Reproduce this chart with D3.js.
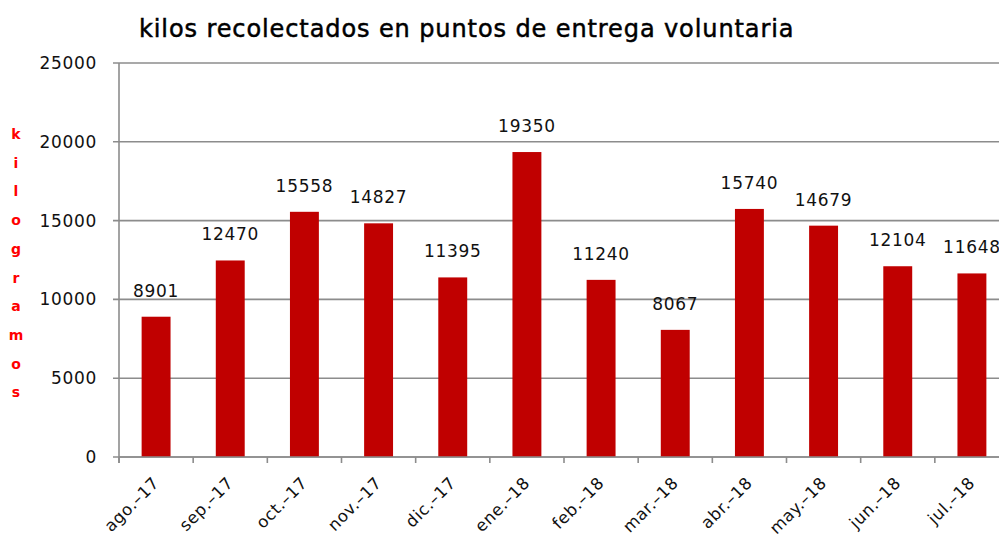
<!DOCTYPE html>
<html>
<head>
<meta charset="utf-8">
<script src="https://cdn.jsdelivr.net/npm/d3@7"></script>
<style>
  body { margin: 0; background: #fff; }
  svg { display: block; font-family: "DejaVu Sans", Verdana, sans-serif; }
</style>
</head>
<body>
<svg id="chart" width="999" height="535"></svg>
<script>
const months = ['ago.–17', 'sep.–17', 'oct.–17', 'nov.–17', 'dic.–17', 'ene.–18',
  'feb.–18', 'mar.–18', 'abr.–18', 'may.–18', 'jun.–18', 'jul.–18'];
const kilos = [8901, 12470, 15558, 14827, 11395, 19350, 11240, 8067, 15740, 14679, 12104, 11648];
const yTicks = [0, 5000, 10000, 15000, 20000, 25000];
const yLabelLetters = ['k', 'i', 'l', 'o', 'g', 'r', 'a', 'm', 'o', 's'];

const svg = d3.select('#chart');
const plotLeft = 119, plotRight = 1009, plotTop = 63, plotBottom = 457;

const x = d3.scaleBand().domain(months).range([plotLeft, plotRight]).paddingInner(0.61).paddingOuter(0.305);
const xTickScale = d3.scaleBand().domain(months).range([plotLeft, plotRight]);
const y = d3.scaleLinear().domain([0, 25000]).range([plotBottom, plotTop]);

// gridlines
svg.append('g')
  .selectAll('line')
  .data(yTicks)
  .enter()
  .append('line')
  .attr('x1', plotLeft - 6)
  .attr('x2', plotRight)
  .attr('y1', (d) => y(d))
  .attr('y2', (d) => y(d))
  .attr('stroke', '#8c8c8c')
  .attr('stroke-width', 1.6);

// y tick labels
svg.append('g')
  .selectAll('text')
  .data(yTicks)
  .enter()
  .append('text')
  .attr('x', 97)
  .attr('y', (d) => y(d) + 6)
  .attr('text-anchor', 'end')
  .attr('font-size', 17)
  .attr('letter-spacing', 0.7)
  .attr('fill', '#111')
  .text((d) => d);

// bars
svg.append('g')
  .selectAll('rect')
  .data(kilos)
  .enter()
  .append('rect')
  .attr('x', (d, i) => x(months[i]))
  .attr('y', (d) => y(d))
  .attr('width', x.bandwidth())
  .attr('height', (d) => plotBottom - y(d))
  .attr('fill', '#c00000');

// value labels
svg.append('g')
  .selectAll('text')
  .data(kilos)
  .enter()
  .append('text')
  .attr('x', (d, i) => x(months[i]) + x.bandwidth() / 2)
  .attr('y', (d) => y(d) - 20)
  .attr('text-anchor', 'middle')
  .attr('font-size', 17)
  .attr('letter-spacing', 0.7)
  .attr('fill', '#111')
  .text((d) => d);

// axes lines
svg.append('line')
  .attr('x1', plotLeft).attr('x2', plotLeft)
  .attr('y1', plotTop).attr('y2', plotBottom + 6)
  .attr('stroke', '#8c8c8c').attr('stroke-width', 1.6);
svg.append('line')
  .attr('x1', plotLeft).attr('x2', plotRight)
  .attr('y1', plotBottom).attr('y2', plotBottom)
  .attr('stroke', '#8c8c8c').attr('stroke-width', 1.6);

// x ticks
svg.append('g')
  .selectAll('line')
  .data(months)
  .enter()
  .append('line')
  .attr('x1', (d) => xTickScale(d))
  .attr('x2', (d) => xTickScale(d))
  .attr('y1', plotBottom)
  .attr('y2', plotBottom + 6)
  .attr('stroke', '#8c8c8c')
  .attr('stroke-width', 1.6);

// x labels, rotated
svg.append('g')
  .selectAll('text')
  .data(months)
  .enter()
  .append('text')
  .attr('transform', (d) => {
    let cx = xTickScale(d) + xTickScale.bandwidth() / 2 + 4;
    return 'translate(' + cx + ',' + 484 + ') rotate(-45)';
  })
  .attr('text-anchor', 'end')
  .attr('font-size', 16.5)
  .attr('letter-spacing', 0.6)
  .attr('fill', '#111')
  .text((d) => d);

// vertical y label
svg.append('g')
  .selectAll('text')
  .data(yLabelLetters)
  .enter()
  .append('text')
  .attr('x', 16)
  .attr('y', (d, i) => 139 + i * 28.7)
  .attr('text-anchor', 'middle')
  .attr('font-size', 14)
  .attr('font-weight', 'bold')
  .attr('fill', '#ff0000')
  .text((d) => d);

// title
svg.append('text')
  .attr('x', 139)
  .attr('y', 37)
  .attr('font-size', 24)
  .attr('letter-spacing', 0.9)
  .attr('stroke', '#000')
  .attr('stroke-width', 0.5)
  .attr('fill', '#000')
  .text('kilos recolectados en puntos de entrega voluntaria');
</script>
</body>
</html>
